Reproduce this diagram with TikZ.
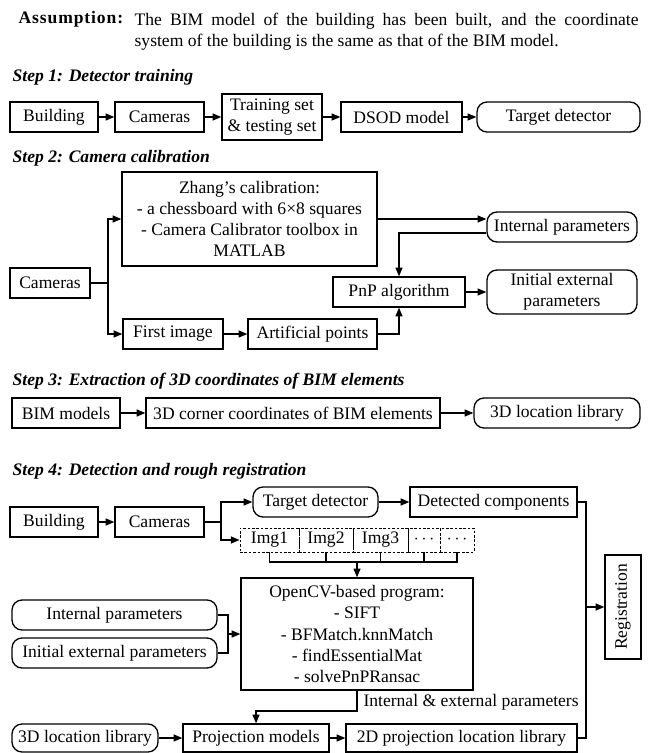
\documentclass[tikz,border=0pt]{standalone}
\usepackage{fontspec}
\setmainfont{Liberation Serif}
\usetikzlibrary{calc,arrows.meta}

\begin{document}
\begin{tikzpicture}[x=0.02cm,y=-0.02cm,line width=0.75pt,>={Triangle[length=5pt,width=4pt]},
	blk/.style={draw,rectangle,minimum height=0.6cm,inner sep=2pt,align=center},
	rblk/.style={blk,rounded corners=0.2cm},
	imgcell/.style={draw,dash pattern=on 1.5pt off 1pt,line width=0.5pt,minimum height=0.48cm,inner sep=1pt},
	steptitle/.style={anchor=west,inner sep=0,font=\bfseries\itshape}]
	\useasboundingbox (0,0) rectangle (650,753);
	\node[anchor=base west,inner sep=0,font=\bfseries\addfontfeature{LetterSpace=5}] (asmh) at (18,24) {Assumption:};
	\node[anchor=north west,inner sep=0,text width=10.08cm,align=justify] (asm) at (134,12) {\hangindent=0.38cm\hangafter=1 The BIM model of the building has been built, and the coordinate\linebreak system of the building is the same as that of the BIM model.};
	
	\node[steptitle] (st1) at (12,77) {Step 1: Detector training};
	\node[blk,minimum width=1.76cm] (bld1) at (54,117) {Building};
	\node[blk,minimum width=1.78cm] (cam1) at (159.5,117) {Cameras};
	\node[blk,minimum width=2cm,minimum height=0.92cm] (trn1) at (272,117) {Training set\\\& testing set};
	\node[blk,minimum width=2.42cm] (dsod1) at (401.5,117) {DSOD model};
	\node[rblk,minimum width=3.26cm] (tgt1) at (558.5,117) {Target detector};
	\draw[->] (bld1)--(cam1);
	\draw[->] (cam1)--(trn1);
	\draw[->] (trn1)--(dsod1);
	\draw[->] (dsod1)--(tgt1);
	
	\node[steptitle] (st2) at (12,158) {Step 2: Camera calibration};
	\node[blk,minimum width=5.1cm,minimum height=1.88cm] (zh2) at (249.5,219) {Zhang's calibration:\\- a chessboard with 6×8 squares\\- Camera Calibrator toolbox in\\MATLAB};
	\node[blk,minimum width=1.6cm] (cam2) at (50,283) {Cameras};
	\node[rblk,minimum width=3cm] (int2) at (562,227) {Internal parameters};
	\node[blk,minimum width=2.64cm] (pnp2) at (399,292) {PnP algorithm};
	\node[rblk,minimum width=3cm,minimum height=0.88cm] (ini2) at (562,292) {Initial external\\parameters};
	\node[blk,minimum width=2cm] (fst2) at (173,334) {First image};
	\node[blk,minimum width=2.58cm] (art2) at (312.5,334) {Artificial points};
	\coordinate (sp2) at (108,283);
	\draw (cam2)--(sp2);
	\draw[->] (sp2)|-(zh2);
	\draw[->] (sp2)|-(fst2);
	\draw[->] (fst2)--(art2);
	\draw[->] (art2)-|(pnp2);
	\draw[->] (zh2.east)--(zh2.east-|int2.west);
	\draw[->] ([yshift=-0.12cm]int2.west)-|(pnp2);
	\draw[->] (pnp2)--(ini2);
	
	\node[steptitle] (st3) at (12,381) {Step 3: Extraction of 3D coordinates of BIM elements};
	\node[blk,minimum width=2.16cm] (bim3) at (66,413) {BIM models};
	\node[blk,minimum width=5.88cm] (cor3) at (293,413) {3D corner coordinates of BIM elements};
	\node[rblk,minimum width=3.32cm] (loc3) at (557,413) {3D location library};
	\draw[->] (bim3)--(cor3);
	\draw[->] (cor3)--(loc3);
	
	\node[steptitle] (st4) at (12,471) {Step 4: Detection and rough registration};
	\node[blk,minimum width=1.76cm] (bld4) at (54,522) {Building};
	\node[blk,minimum width=1.78cm] (cam4) at (159.5,522) {Cameras};
	\node[rblk,minimum width=2.5cm] (tgt4) at (315.5,502) {Target detector};
	\node[blk,minimum width=3.34cm] (det4) at (493.5,502) {Detected components};
	\node[imgcell,minimum width=1.18cm] (i1) at (269.5,540) {Img1};
	\node[imgcell,minimum width=1.08cm] (i2) at (326,540) {Img2};
	\node[imgcell,minimum width=1.1cm] (i3) at (380.5,540) {Img3};
	\node[imgcell,minimum width=0.64cm] (i4) at (424,540) {$\cdots$};
	\node[imgcell,minimum width=0.68cm] (i5) at (457,540) {$\cdots$};
	\node[blk,minimum width=4.64cm,minimum height=2.24cm] (cv4) at (357,634) {OpenCV-based program:\\- SIFT\\- BFMatch.knnMatch\\- findEssentialMat\\- solvePnPRansac};
	\node[rblk,minimum width=4.1cm] (ip4) at (114.5,615) {Internal parameters};
	\node[rblk,minimum width=4.1cm] (ie4) at (114.5,653) {Initial external parameters};
	\node[rblk,minimum width=2.92cm,minimum height=0.56cm] (loc4) at (85,738) {3D location library};
	\node[blk,minimum width=2.92cm,minimum height=0.56cm] (pm4) at (256,738) {Projection models};
	\node[blk,minimum width=4.62cm,minimum height=0.56cm] (pl4) at (461.5,738) {2D projection location library};
	\node[blk,rotate=90,minimum width=2.08cm,minimum height=0.72cm] (reg4) at (623,607) {Registration};
	\coordinate (sp4) at (221,522);
	\coordinate (bar4) at (357,562);
	\coordinate (jn4) at (228,634);
	\coordinate (kn4) at (357,711);
	\coordinate (rj4) at (586,607);
	\draw[->] (bld4)--(cam4);
	\draw (cam4)--(sp4);
	\draw[->] (sp4)|-(tgt4);
	\draw[->] (sp4)|-(i1);
	\draw[->] (tgt4)--(det4);
	\draw (i1.south)--(i1.south|-bar4)--(i5.south|-bar4)--(i5.south);
	\draw (i2.south)--(i2.south|-bar4);
	\draw (i3.south)--(i3.south|-bar4);
	\draw (i4.south)--(i4.south|-bar4);
	\draw[->] (bar4)--(cv4);
	\draw (ip4.east)-|(jn4);
	\draw (ie4.east)-|(jn4);
	\draw[->] (jn4)--(cv4);
	\draw[->] (cv4)--node[right,yshift=-1pt]{Internal \& external parameters}(kn4)-|(pm4);
	\draw[->] (loc4)--(pm4);
	\draw[->] (pm4)--(pl4);
	\draw (det4.east)-|(rj4);
	\draw (pl4.east)-|(rj4);
	\draw[->] (rj4)--(reg4);
\end{tikzpicture}
\end{document}
